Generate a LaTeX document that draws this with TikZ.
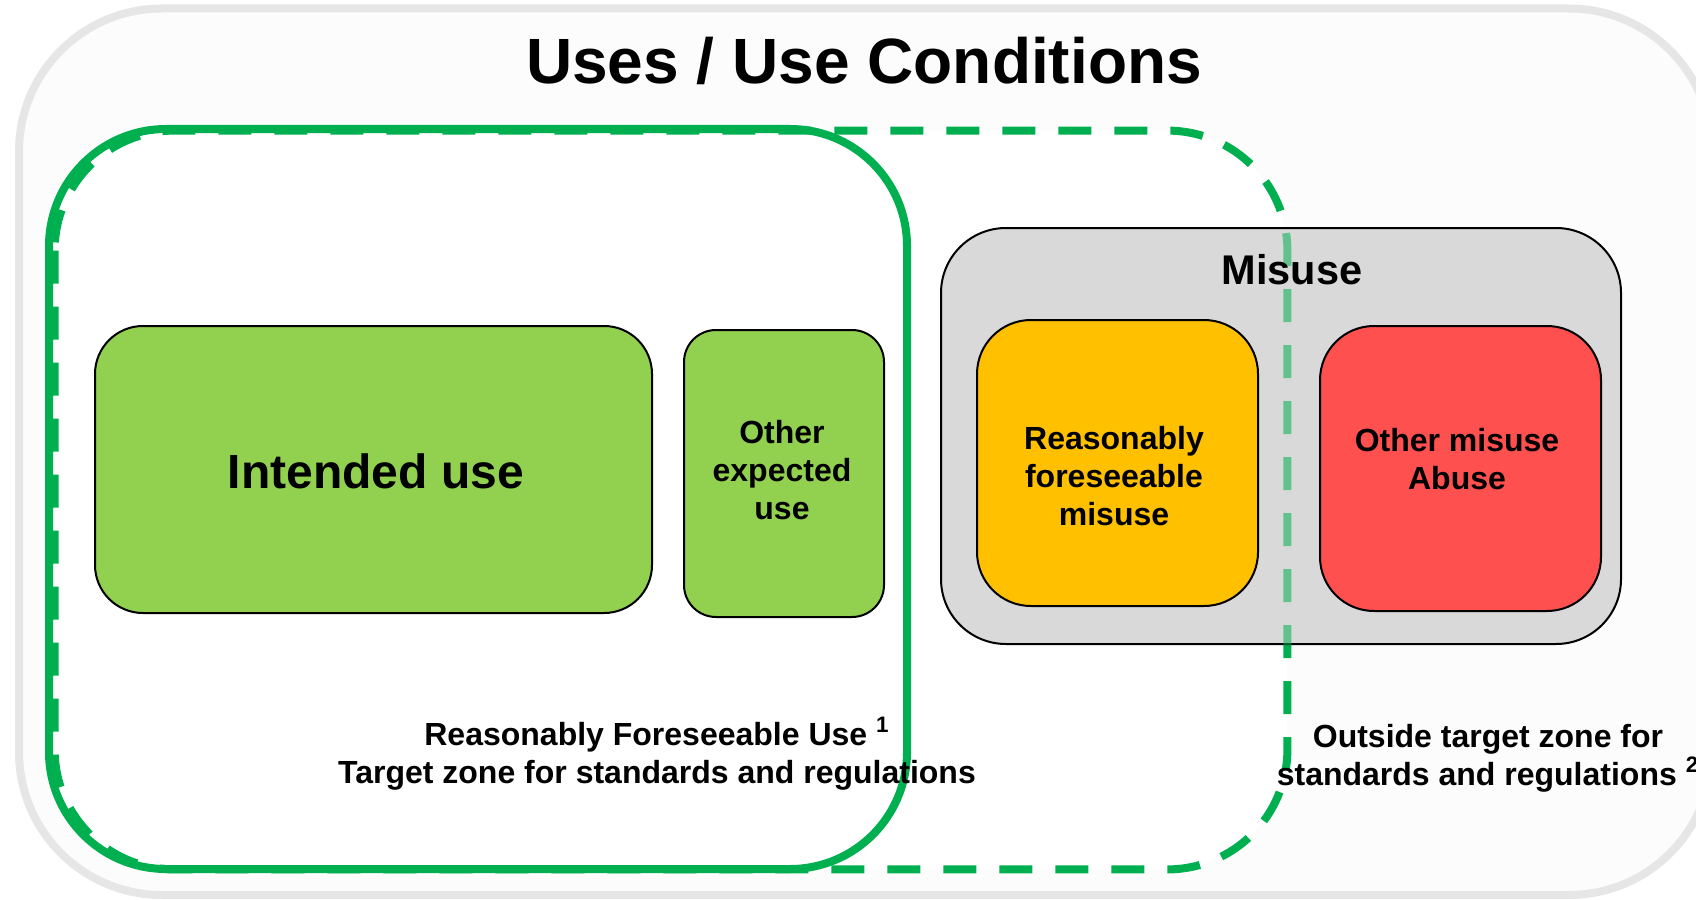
\documentclass[tikz,border=0pt]{standalone}
\usepackage{fontspec}
\setmainfont{Liberation Sans}
\definecolor{zonegreen}{HTML}{00B050}
\definecolor{usegreen}{HTML}{92D050}
\definecolor{misorange}{HTML}{FFC000}
\definecolor{misred}{HTML}{FF5050}
\definecolor{misgray}{HTML}{D9D9D9}
\definecolor{framefill}{HTML}{FCFCFC}
\definecolor{frameline}{HTML}{E6E6E6}
\begin{document}
\begin{tikzpicture}[x=0.5pt,y=-0.5pt,
  box/.style={draw=black, line width=1pt, rectangle, inner sep=0pt},
  zonesolid/.style={draw=zonegreen, line width=4pt, rectangle, inner sep=0pt, rounded corners=58.5pt},
  zonedash/.style={draw=zonegreen, line width=4pt, dash pattern=on 16.5pt off 11.5pt, rounded corners=60pt},
  txt/.style={font=\fontsize{16}{19.2}\selectfont\bfseries, align=center, inner sep=0pt},
]
\useasboundingbox (0,0) rectangle (1696,899);
\clip (0,0) rectangle (1696,899);
% frame
\node[rectangle, fill=framefill, draw=frameline, line width=4pt, rounded corners=71.5pt,
      minimum width=846.5pt, minimum height=443.25pt, inner sep=0pt] (frame) at (865.5,451.75) {};
% zones (fills)
\node[rectangle, fill=white, rounded corners=60pt, minimum width=616pt, minimum height=369pt, inner sep=0pt] (dz) at (671,500) {};
\node[rectangle, fill=white, rounded corners=58.5pt, minimum width=429pt, minimum height=370pt, inner sep=0pt] (sz) at (478,499) {};
% dashed zone outline
\draw[zonedash] (dz.north west) rectangle (dz.south east);
% solid zone outline
\node[zonesolid, minimum width=429pt, minimum height=370pt] (szl) at (478,499) {};
% misuse box
\node[box, fill=misgray, rounded corners=32.5pt, minimum width=340pt, minimum height=208pt] (misuse) at (1281,436) {};
\begin{scope}
  \clip[rounded corners=32.5pt] (misuse.north west) rectangle (misuse.south east);
  \draw[zonedash, opacity=0.55] (dz.north west) rectangle (dz.south east);
\end{scope}
% inner boxes
\node[box, fill=usegreen, rounded corners=24pt, minimum width=278.5pt, minimum height=143.5pt] (intended) at (373.5,469.5) {};
\node[box, fill=usegreen, rounded corners=16pt, minimum width=100pt, minimum height=143.5pt] (other) at (784,473.5) {};
\node[box, fill=misorange, rounded corners=27pt, minimum width=140.5pt, minimum height=143pt] (rfm) at (1117.5,463) {};
\node[box, fill=misred, rounded corners=27pt, minimum width=140.5pt, minimum height=142.5pt] (abuse) at (1460.5,468.5) {};
% texts
\node[font=\fontsize{32}{38}\selectfont\bfseries, inner sep=0pt] (title) at (864,61) {Uses / Use Conditions};
\node[font=\fontsize{24}{29}\selectfont\bfseries, inner sep=0pt] (intendedtxt) at (376,471) {Intended use};
\node[txt] (othertxt) at (782,470) {Other\\expected\\use};
\node[font=\fontsize{20.75}{25}\selectfont\bfseries, inner sep=0pt] (misusetxt) at (1292,270) {Misuse};
\node[txt] (rfmtxt) at (1114,476) {Reasonably\\foreseeable\\misuse};
\node[txt] (abusetxt) at (1457,459) {Other misuse\\Abuse};
\node[txt] (leftlbl) at (657,754) {Reasonably Foreseeable Use \textsuperscript{1}\\Target zone for standards and regulations};
\node[txt] (rightlbl) at (1488,758) {Outside target zone for\\standards and regulations \textsuperscript{2}};
\end{tikzpicture}
\end{document}
